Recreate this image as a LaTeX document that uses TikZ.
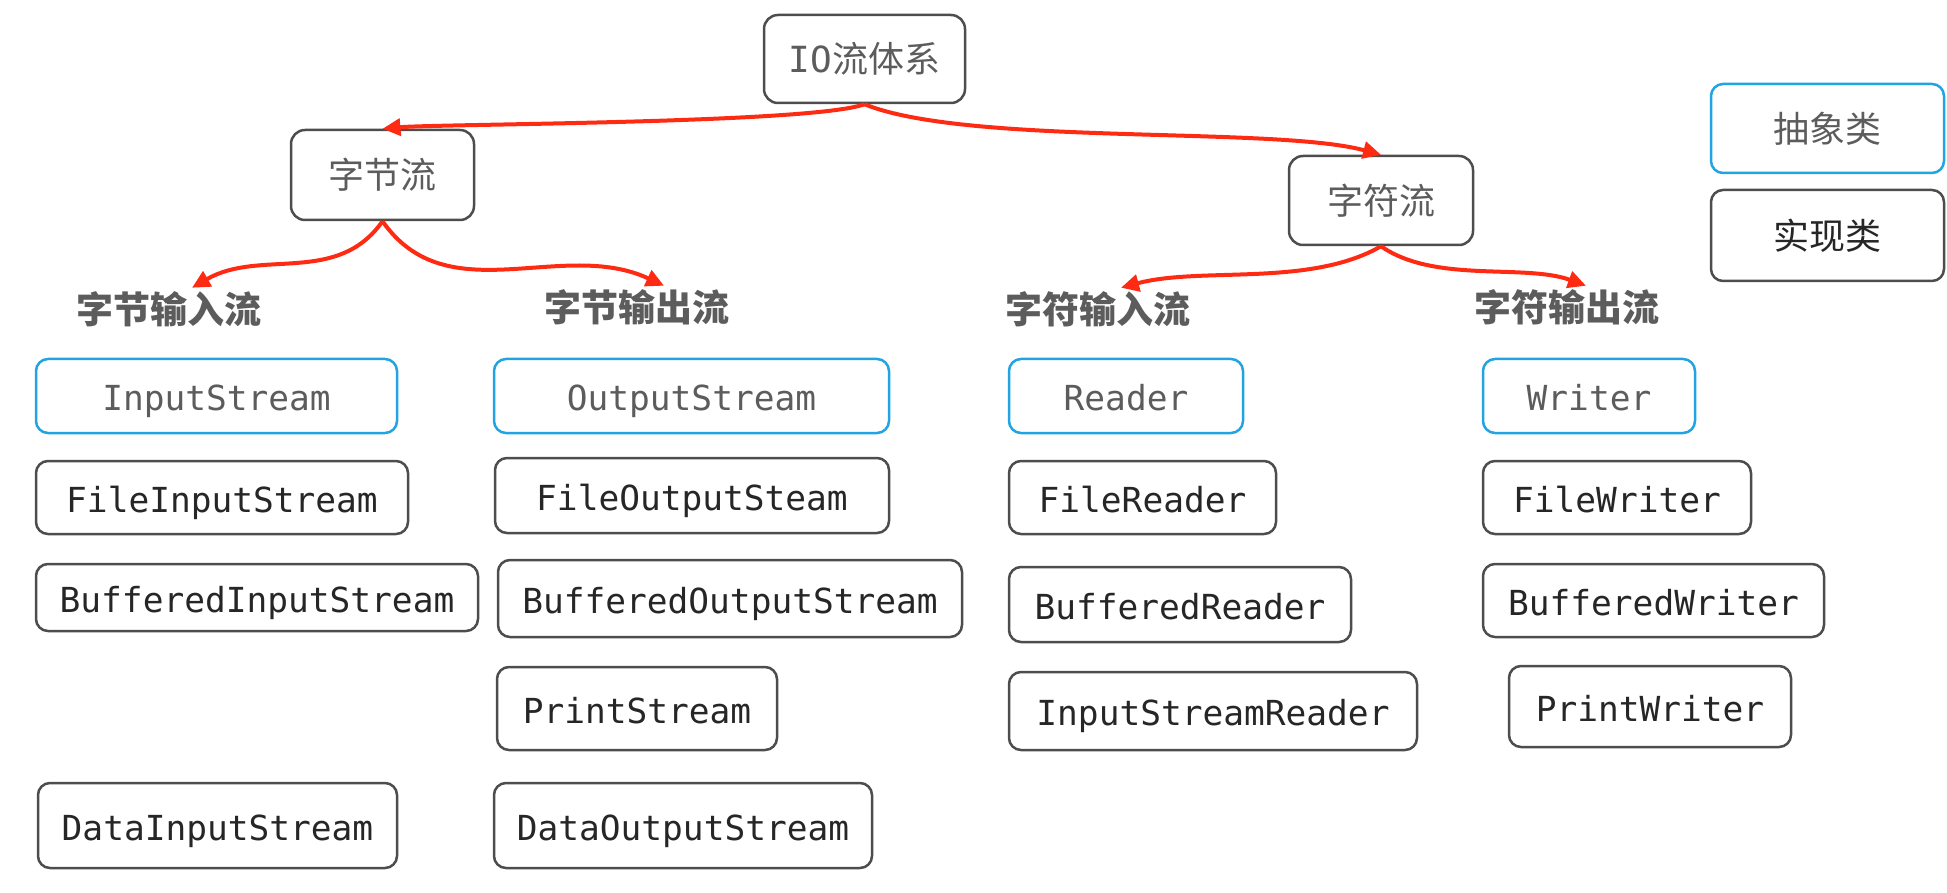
\documentclass[tikz,border=0pt]{standalone}
\usepackage{fontspec}
\setmonofont{DejaVu Sans Mono}
\newfontfamily\cjk{Noto Sans CJK SC}
\usetikzlibrary{arrows.meta}
\definecolor{boxgray}{HTML}{4D4D4D}
\definecolor{absblue}{HTML}{22A3E2}
\definecolor{txtgray}{HTML}{5C5C5C}
\definecolor{flowred}{HTML}{FF2A12}
\tikzset{
  classbox/.style={draw, rectangle, rounded corners=12pt, line width=2.5pt, fill=white, font=\fontsize{34.5}{40}\selectfont\ttfamily, text height=31pt, text depth=2pt},
  implbox/.style={classbox, draw=boxgray, text=black!85},
  absbox/.style={classbox, draw=absblue, text=txtgray},
  topicbox/.style={draw=boxgray, rectangle, rounded corners=14pt, line width=2.5pt, text=txtgray, font=\fontsize{36}{42}\selectfont\cjk},
  grouplabel/.style={text=txtgray, font=\fontsize{37}{44}\selectfont\cjk\bfseries},
  flow/.style={draw=flowred, line width=4pt, -{Triangle[length=18pt,width=17pt]}}
}

\begin{document}
\begin{tikzpicture}[x=1pt,y=-1pt]
    \useasboundingbox (0,0) rectangle (1947,893);

    \node[topicbox, minimum width=201pt, minimum height=88pt] (io) at (864.5,59) {{\ttfamily IO}流体系} ;
    \node[topicbox, minimum width=183pt, minimum height=90pt] (bytes) at (382.5,175) {字节流} ;
    \node[topicbox, minimum width=184pt, minimum height=89pt] (chars) at (1381,200.5) {字符流} ;

    % legend
    \node[absbox, font=\fontsize{36}{42}\selectfont\cjk, minimum width=233pt, minimum height=89pt] (legabs) at (1827.5,128.5) {抽象类} ;
    \node[implbox, font=\fontsize{36}{42}\selectfont\cjk, minimum width=233pt, minimum height=91pt] (legimpl) at (1827.5,235.5) {实现类} ;

    \node[grouplabel] (bin) at (169,309) {字节输入流} ;
    \node[grouplabel] (bout) at (637,307) {字节输出流} ;
    \node[grouplabel] (cin) at (1098,309) {字符输入流} ;
    \node[grouplabel] (cout) at (1567,307) {字符输出流} ;

    \node[absbox, minimum width=361pt, minimum height=74pt] (is) at (216.5,396) {InputStream} ;
    \node[absbox, minimum width=395pt, minimum height=74pt] (os) at (691.5,396) {OutputStream} ;
    \node[absbox, minimum width=234pt, minimum height=74pt] (rd) at (1126,396) {Reader} ;
    \node[absbox, minimum width=212pt, minimum height=74pt] (wr) at (1589,396) {Writer} ;

    \node[implbox, minimum width=372pt, minimum height=73pt] (fis) at (222,497.5) {FileInputStream} ;
    \node[implbox, minimum width=394pt, minimum height=75pt] (fos) at (692,495.5) {FileOutputSteam} ;
    \node[implbox, minimum width=267pt, minimum height=73pt] (frd) at (1142.5,497.5) {FileReader} ;
    \node[implbox, minimum width=268pt, minimum height=73pt] (fwr) at (1617,497.5) {FileWriter} ;

    \node[implbox, minimum width=442pt, minimum height=67pt] (bis) at (257,597.5) {BufferedInputStream} ;
    \node[implbox, minimum width=464pt, minimum height=77pt] (bos) at (730,598.5) {BufferedOutputStream} ;
    \node[implbox, minimum width=342pt, minimum height=75pt] (brd) at (1180,604.5) {BufferedReader} ;
    \node[implbox, minimum width=341pt, minimum height=73pt] (bwr) at (1653.5,600.5) {BufferedWriter} ;

    \node[implbox, minimum width=280pt, minimum height=83pt] (ps) at (637,708.5) {PrintStream} ;
    \node[implbox, minimum width=408pt, minimum height=78pt] (isr) at (1213,711) {InputStreamReader} ;
    \node[implbox, minimum width=282pt, minimum height=81pt] (pw) at (1650,706.5) {PrintWriter} ;

    \node[implbox, minimum width=359pt, minimum height=85pt] (dis) at (217.5,825.5) {DataInputStream} ;
    \node[implbox, minimum width=378pt, minimum height=85pt] (dos) at (683,825.5) {DataOutputStream} ;

    \draw[flow] (io.south) to[out=200,in=5,looseness=0.3] (bytes.north);
    \draw[flow] (io.south) to[out=-22,in=165,looseness=0.55] (chars.north);
    \draw[flow] (bytes.south) to[out=235,in=30] ([xshift=23pt]bin.north);
    \draw[flow] (bytes.south) to[out=-55,in=155] ([xshift=27pt]bout.north);
    \draw[flow] (chars.south) to[out=-150,in=15,looseness=0.8] ([xshift=23pt]cin.north);
    \draw[flow] (chars.south) to[out=-35,in=160,looseness=0.8] ([xshift=19pt]cout.north);
  \end{tikzpicture}
\end{document}
